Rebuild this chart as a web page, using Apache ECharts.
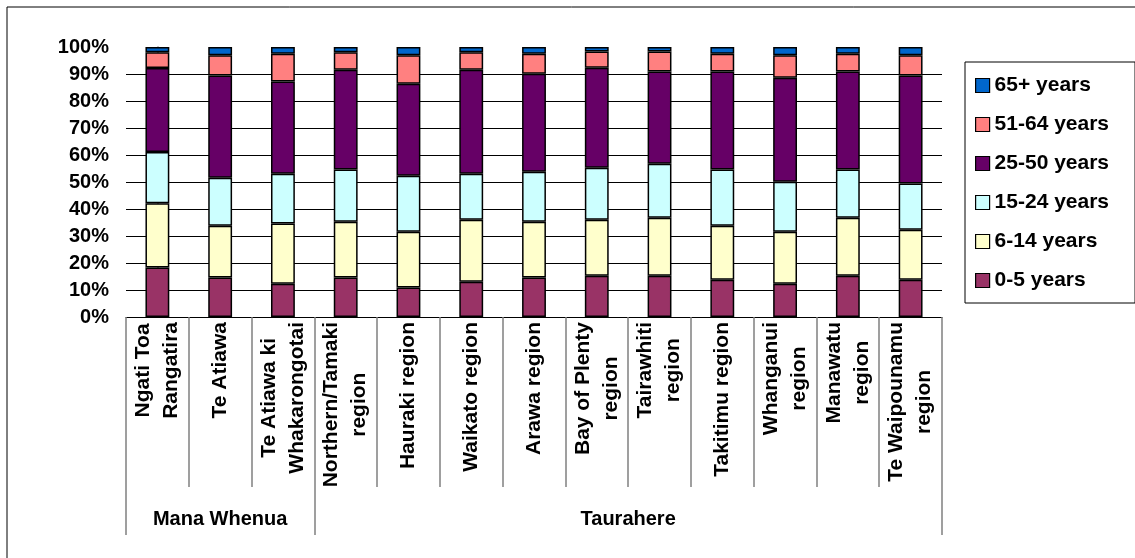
<!DOCTYPE html>
<html>
<head>
<meta charset="utf-8">
<title>Age distribution by iwi and region</title>
<script src="https://cdn.jsdelivr.net/npm/echarts@6/dist/echarts.min.js"></script>
<style>
  html, body { margin: 0; padding: 0; background: #fff; }
  #chart { width: 1135px; height: 558px; }
</style>
</head>
<body>
<div id="chart"></div>
<script>
// Categories along the x axis
const categories = [
  'Ngati Toa\nRangatira', 'Te Atiawa', 'Te Atiawa ki\nWhakarongotai',
  'Northern/Tamaki\nregion', 'Hauraki region', 'Waikato region', 'Arawa region',
  'Bay of Plenty\nregion', 'Tairawhiti\nregion', 'Takitimu region',
  'Whanganui\nregion', 'Manawatu\nregion', 'Te Waipounamu\nregion'
];

// Category groups drawn beneath the labels
const groupNames = ['Mana Whenua', 'Taurahere'];
const groupSizes = [3, 10];

// Percentage share of each age band
const age0to5   = [18.3, 14.6, 12.3, 14.6, 10.9, 13.1, 14.6, 15.3, 15.3, 13.8, 12.3, 15.3, 13.8];
const age6to14  = [23.8, 19.2, 22.3, 20.7, 20.7, 22.9, 20.7, 20.7, 21.5, 20.0, 19.3, 21.5, 18.5];
const age15to24 = [19.0, 17.8, 18.5, 19.3, 20.7, 17.1, 18.5, 19.3, 20.0, 20.8, 18.5, 17.8, 17.1];
const age25to50 = [31.1, 37.8, 34.1, 37.0, 34.1, 38.5, 36.3, 37.0, 34.1, 36.3, 38.5, 36.3, 40.0];
const age51to64 = [5.9, 7.5, 10.3, 6.5, 10.5, 6.5, 7.4, 6.0, 7.4, 6.6, 8.3, 6.6, 7.5];
const age65plus = [1.9, 3.1, 2.5, 1.9, 3.1, 1.9, 2.5, 1.7, 1.7, 2.5, 3.1, 2.5, 3.1];

// Y axis tick step (percent)
const yTickStep = 10;

const seriesDefs = [
  { name: '0-5 years',   data: age0to5,   color: '#993366' },
  { name: '6-14 years',  data: age6to14,  color: '#FFFFCC' },
  { name: '15-24 years', data: age15to24, color: '#CCFFFF' },
  { name: '25-50 years', data: age25to50, color: '#660066' },
  { name: '51-64 years', data: age51to64, color: '#FF8080' },
  { name: '65+ years',   data: age65plus, color: '#0066CC' }
];

const FONT = '"Liberation Sans", Arial, sans-serif';

// Group boundaries and centres in category-index units
const groupEdges = [-0.5];
const groupCentres = [];
groupSizes.forEach(function (n) {
  const start = groupEdges[groupEdges.length - 1];
  groupEdges.push(start + n);
  groupCentres.push(start + n / 2);
});

const chart = echarts.init(document.getElementById('chart'), null, { renderer: 'canvas' });

chart.setOption({
  backgroundColor: '#fff',
  animation: false,
  // Frame around the whole chart area
  graphic: [{
    type: 'rect',
    silent: true,
    shape: { x: 7, y: 7, width: 1300, height: 700 },
    style: { fill: 'none', stroke: '#000', lineWidth: 1 }
  }],
  grid: { left: 126, right: 193, top: 47, bottom: 241, containLabel: false },
  legend: {
    orient: 'vertical',
    left: 965,
    top: 62,
    data: seriesDefs.map(function (s) { return s.name; }).reverse(),
    icon: 'rect',
    itemWidth: 14,
    itemHeight: 14,
    itemGap: 18,
    itemStyle: { borderColor: '#000', borderWidth: 1.2 },
    padding: [13, 26, 12, 10],
    borderColor: '#000',
    borderWidth: 1,
    selectedMode: false,
    textStyle: { fontFamily: FONT, fontSize: 21, fontWeight: 'bold', color: '#000', lineHeight: 20 }
  },
  xAxis: [{
    type: 'category',
    data: categories,
    position: 'bottom',
    axisLine: { show: true, lineStyle: { color: '#000', width: 1 } },
    axisTick: { show: true, length: 170, lineStyle: { color: '#808080', width: 1.5 } },
    axisLabel: {
      interval: 0,
      rotate: 90,
      margin: 5,
      color: '#000',
      fontFamily: FONT,
      fontSize: 21,
      fontWeight: 'bold',
      formatter: function (v) {
        return v.split('\n').map(function (s) { return '{c|' + s + '}'; }).join('\n');
      },
      rich: {
        c: { align: 'center', fontFamily: FONT, fontSize: 21, fontWeight: 'bold', color: '#000', lineHeight: 28 }
      }
    },
    splitLine: { show: false }
  }, {
    type: 'value',
    position: 'bottom',
    min: -0.5,
    max: categories.length - 0.5,
    axisLine: { show: false, onZero: false },
    splitLine: { show: false },
    axisTick: {
      show: true,
      length: 218,
      customValues: groupEdges,
      lineStyle: { color: '#808080', width: 1.5 }
    },
    axisLabel: {
      show: true,
      margin: 192,
      customValues: groupCentres,
      color: '#000',
      fontFamily: FONT,
      fontSize: 20,
      fontWeight: 'bold',
      formatter: function (v) {
        const i = groupCentres.indexOf(v);
        return i >= 0 ? groupNames[i] : '';
      }
    }
  }],
  yAxis: {
    type: 'value',
    min: 0,
    max: 100,
    interval: yTickStep,
    axisLine: { show: true, lineStyle: { color: '#808080', width: 1.5 } },
    axisTick: { show: true, length: 5, lineStyle: { color: '#000', width: 1 } },
    axisLabel: {
      margin: 17,
      color: '#000',
      fontFamily: FONT,
      fontSize: 20,
      fontWeight: 'bold',
      formatter: '{value}%'
    },
    splitLine: { show: true, showMaxLine: false, lineStyle: { color: '#000', width: 1 } }
  },
  series: seriesDefs.map(function (s) {
    return {
      name: s.name,
      type: 'bar',
      stack: 'share',
      xAxisIndex: 0,
      barWidth: '38%',
      data: s.data,
      itemStyle: { color: s.color, borderColor: '#000', borderWidth: 1.5 },
      emphasis: { disabled: true }
    };
  })
});
</script>
</body>
</html>
